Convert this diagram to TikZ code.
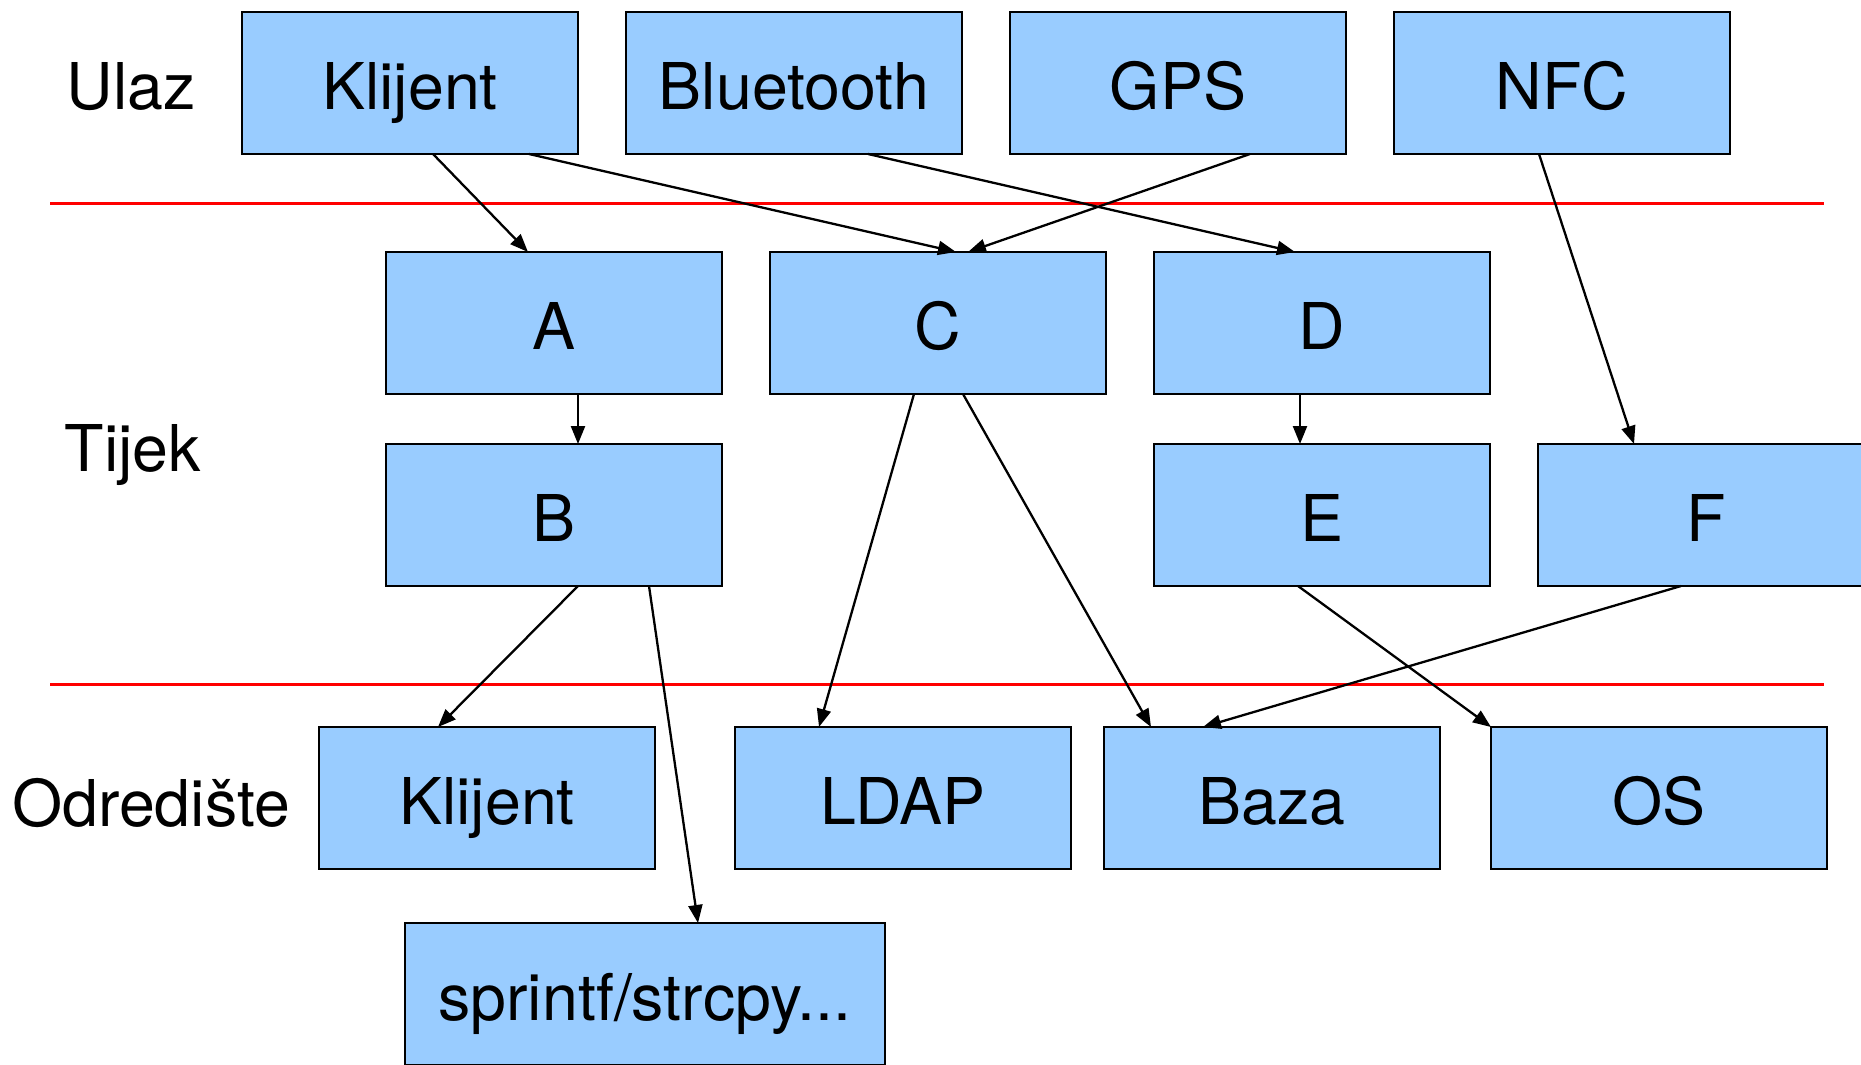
\documentclass[tikz,border=0pt]{standalone}
\usepackage{fontspec}
\setmainfont{TeX Gyre Heros}
\usepackage{xcolor}
\usetikzlibrary{positioning, arrows.meta}
\definecolor{plava}{RGB}{153,204,255}

\begin{document}
\begin{tikzpicture}[x=1pt, y=-1pt, node distance=48pt,
		font=\fontsize{64.5}{72}\selectfont,
		blok/.style={rectangle, draw, fill=plava, line width=2.5pt, minimum width=336pt, minimum height=142pt, inner sep=0pt, outer sep=0pt, text height=52pt, text depth=0pt},
		oznaka/.style={inner sep=0pt, text height=52pt, text depth=0pt},
		strel/.style={-{Triangle[length=18pt,width=14pt]}, line width=2.3pt},
		granica/.style={red, line width=3pt}]
			\useasboundingbox (0,0) rectangle (1861,1065);
			\draw[granica] (50,203) -- (1824,203);
			\draw[granica] (50,684) -- (1824,684);
			\node[oznaka] (ulaz) at (131,83) {Ulaz};
			\node[oznaka] (tijek) at (133,445) {Tijek};
			\node[oznaka] (odr) at (151,800) {Odredište};
			\node[blok] (kli) at (410,83) {Klijent};
			\node[blok, right=of kli] (blt) {Bluetooth};
			\node[blok, right=of blt] (gps) {GPS};
			\node[blok, right=of gps] (nfc) {NFC};
			\node[blok] (a) at (554,323) {A};
			\node[blok, right=of a] (c) {C};
			\node[blok, right=of c] (d) {D};
			\node[blok, below=50pt of a] (b) {B};
			\node[blok, below=50pt of d] (e) {E};
			\node[blok, right=of e] (f) {F};
			\node[blok] (kli2) at (487,798) {Klijent};
			\node[blok] (ldap) at (903,798) {LDAP};
			\node[blok] (baza) at (1272,798) {Baza};
			\node[blok] (os) at (1659,798) {OS};
			\node[blok, minimum width=480pt] (spr) at (645,994) {sprintf/strcpy...};
			\draw[strel] ([xshift=23pt]kli.south) -- ([xshift=-26pt]a.north);
			\draw[strel] ([xshift=119pt]kli.south) -- ([xshift=18pt]c.north);
			\draw[strel] ([xshift=74pt]blt.south) -- ([xshift=-27pt]d.north);
			\draw[strel] ([xshift=72pt]gps.south) -- ([xshift=30pt]c.north);
			\draw[strel] ([xshift=-23pt]nfc.south) -- ([xshift=-72pt]f.north);
			\draw[strel] ([xshift=24pt]a.south) -- ([xshift=24pt]b.north);
			\draw[strel] ([xshift=-22pt]d.south) -- ([xshift=-22pt]e.north);
			\draw[strel] ([xshift=-24pt]c.south) -- ([xshift=-84pt]ldap.north);
			\draw[strel] ([xshift=25pt]c.south) -- ([xshift=-121pt]baza.north);
			\draw[strel] ([xshift=24pt]b.south) -- ([xshift=-49pt]kli2.north);
			\draw[strel] ([xshift=95pt]b.south) -- ([xshift=53pt]spr.north);
			\draw[strel] ([xshift=-24pt]e.south) -- (os.north west);
			\draw[strel] ([xshift=-25pt]f.south) -- ([xshift=-69pt]baza.north);
		\end{tikzpicture}
\end{document}
